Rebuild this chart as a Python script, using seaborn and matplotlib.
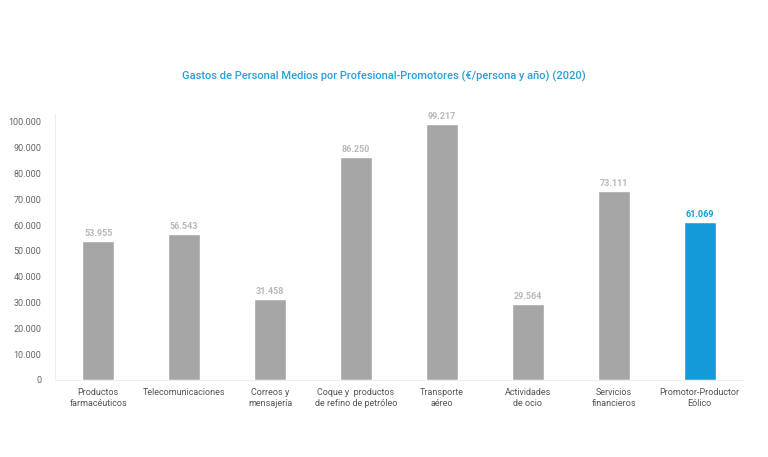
import matplotlib
matplotlib.use("Agg")
import matplotlib.pyplot as plt
import seaborn as sns
import pandas as pd

# --------------------------------------------
# Data
# --------------------------------------------

sectores = [
    "Productos\nfarmacéuticos",
    "Telecomunicaciones",
    "Correos y\nmensajería",
    "Coque y  productos\nde refino de petróleo",
    "Transporte\naéreo",
    "Actividades\nde ocio",
    "Servicios\nfinancieros",
    "Promotor-Productor\nEólico",
]
gastos = [53955, 56543, 31458, 86250, 99217, 29564, 73111, 61069]
y_ticks = [0, 10000, 20000, 30000, 40000, 50000, 60000, 70000, 80000, 90000, 100000]

df = pd.DataFrame({"sector": sectores, "gasto": gastos})

gris = "#a6a6a6"
azul = "#139bd9"
colores = [gris] * 7 + [azul]

# --------------------------------------------
# Plot
# --------------------------------------------

sns.set_style("white")
plt.rcParams["font.family"] = ["Roboto", "DejaVu Sans"]

fig = plt.figure(figsize=(7.68, 4.57), dpi=100)
ax = fig.add_axes([0.072, 0.1685, 0.895, 0.582])

sns.barplot(data=df, x="sector", y="gasto", hue="sector", palette=colores,
            legend=False, width=0.37, ax=ax, saturation=1)

def fmt(v):
    return f"{v:,.0f}".replace(",", ".")

for i, v in enumerate(gastos):
    c = azul if i == len(gastos) - 1 else "#b8b8b8"
    ax.text(i, v + 1200, fmt(v), ha="center", va="bottom",
            fontsize=6.5, fontweight="bold", color=c)

ax.set_ylim(0, 103000)
ax.set_xlim(-0.5, len(sectores) - 0.5)
ax.set_yticks(y_ticks)
ax.set_yticklabels([fmt(t) for t in y_ticks], fontsize=6.5, color="#666666")
ax.tick_params(axis="x", labelsize=6.5, labelcolor="#555555", length=0, pad=6)
ax.tick_params(axis="y", length=0, pad=10)
ax.set_xlabel("")
ax.set_ylabel("")

for s in ["top", "right"]:
    ax.spines[s].set_visible(False)
ax.spines["left"].set_color("#eeeeee")
ax.spines["bottom"].set_color("#eeeeee")

fig.text(0.5, 0.834, "Gastos de Personal Medios por Profesional-Promotores (€/persona y año) (2020)",
         ha="center", va="center", fontsize=8, fontweight="medium", color="#2a9fd8")

fig.savefig("out.png", dpi=100)
